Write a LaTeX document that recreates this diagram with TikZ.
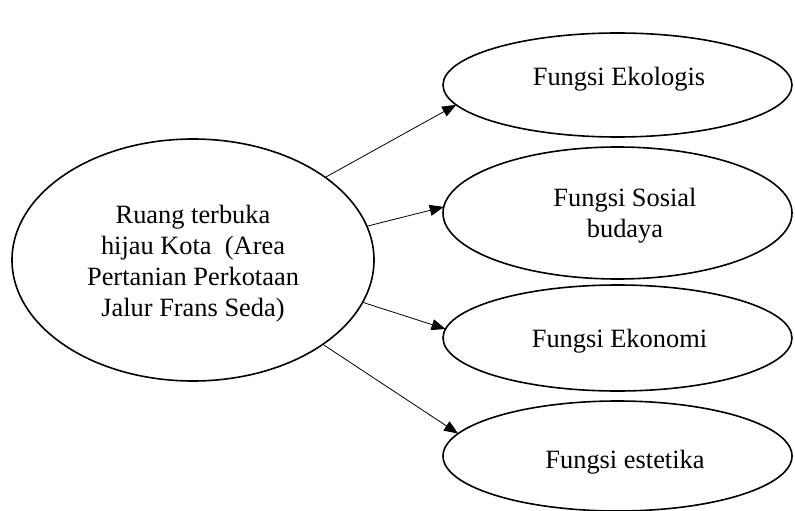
\documentclass[tikz,border=0pt]{standalone}
\usepackage{fontspec}
\setmainfont{Liberation Serif}
\usetikzlibrary{shapes.geometric,arrows.meta}
\begin{document}
\begin{tikzpicture}[x=1pt,y=-1pt,
  ell/.style={draw, ellipse, line width=1.6pt, inner sep=0pt, outer sep=0pt},
  lbl/.style={font=\fontsize{26.4}{31}\selectfont, align=center, inner sep=0pt},
  conn/.style={line width=0.8pt, -{Triangle[length=14pt,width=11pt]}}]
\useasboundingbox (0,0) rectangle (795,511);
\node[ell, minimum width=362pt, minimum height=242pt] (src) at (193,260) {};
\node[ell, minimum width=349pt, minimum height=104pt] (e1) at (617.5,85) {};
\node[ell, minimum width=349pt, minimum height=132pt] (e2) at (617.5,213) {};
\node[ell, minimum width=349pt, minimum height=106pt] (e3) at (617.5,338) {};
\node[ell, minimum width=349pt, minimum height=110pt] (e4) at (617.5,456) {};
\node[lbl] (t0) at (193,264) {Ruang terbuka\\hijau Kota\ \ (Area\\Pertanian Perkotaan\\Jalur Frans Seda)};
\node[lbl, anchor=base] (t1) at (619,85) {Fungsi Ekologis};
\node[lbl] (t2) at (625,216) {Fungsi Sosial\\budaya};
\node[lbl, anchor=base] (t3) at (619.5,347) {Fungsi Ekonomi};
\node[lbl, anchor=base] (t4) at (625,468) {Fungsi estetika};
\draw[conn] (src.32.4) -- (e1.187.2);
\draw[conn] (src.11.6) -- (e2.178);
\draw[conn] (src.-14) -- (e3.177.4);
\draw[conn] (src.-33) -- (e4.172.3);
\end{tikzpicture}
\end{document}
